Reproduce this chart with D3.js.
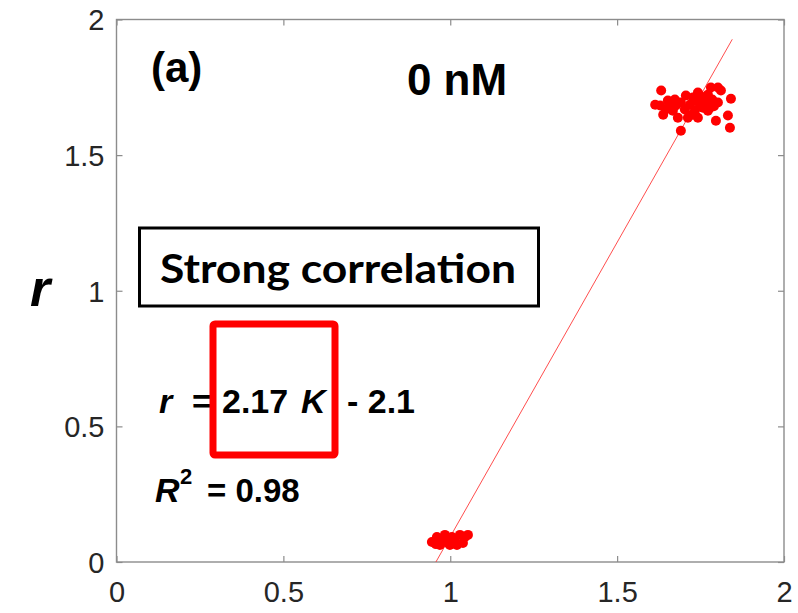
<!DOCTYPE html>
<html>
<head>
<meta charset="utf-8">
<script src="https://cdn.jsdelivr.net/npm/d3@7"></script>
<style>
  html, body { margin: 0; padding: 0; background: #fff; }
  svg { display: block; }
</style>
</head>
<body>
<svg id="chart" width="798" height="613"></svg>
<script>
// ---- data ----
const xTicks = [0, 0.5, 1, 1.5, 2];
const yTicks = [0, 0.5, 1, 1.5, 2];
const xTickLabels = ["0", "0.5", "1", "1.5", "2"];
const yTickLabels = ["0", "0.5", "1", "1.5", "2"];

// cluster near K ~ 1
const kLow = [0.945, 0.960, 0.975, 0.990, 1.005, 1.014, 1.029, 1.044, 1.053, 1.020, 0.999, 0.969, 1.038, 0.984, 0.957, 1.010, 0.993];
const rLow = [0.074, 0.092, 0.081, 0.085, 0.092, 0.074, 0.100, 0.092, 0.100, 0.063, 0.063, 0.063, 0.070, 0.100, 0.066, 0.083, 0.070];

// cluster near K ~ 1.7
const kHigh = [1.632, 1.629, 1.652, 1.667, 1.682, 1.691, 1.706, 1.718, 1.733, 1.742, 1.742, 1.763, 1.772, 1.781, 1.802, 1.811, 1.802, 1.796, 1.832, 1.841, 1.838, 1.772, 1.691, 1.646, 1.727, 1.757, 1.673, 1.703, 1.748, 1.785, 1.614, 1.638, 1.712, 1.676, 1.724, 1.778, 1.748, 1.790, 1.660, 1.735];
const rHigh = [1.738, 1.683, 1.701, 1.664, 1.638, 1.590, 1.720, 1.686, 1.664, 1.731, 1.638, 1.701, 1.664, 1.749, 1.749, 1.738, 1.694, 1.627, 1.646, 1.708, 1.601, 1.723, 1.694, 1.668, 1.712, 1.675, 1.705, 1.668, 1.690, 1.705, 1.686, 1.649, 1.638, 1.683, 1.649, 1.675, 1.720, 1.680, 1.690, 1.700];

// fitted line r = 2.17 K - 2.1 (end points)
const fitK = [0.957, 1.845];
const fitR = [0.0, 1.927];

// ---- layout ----
const svg = d3.select("#chart");
const xScale = d3.scaleLinear().domain([0, 2]).range([116.5, 784]);
const yScale = d3.scaleLinear().domain([0, 2]).range([562, 19.5]);
const axisColor = "#8c8c8c";
const tickFont = "'Liberation Sans', Arial, Helvetica, sans-serif";

// frame
svg.append("rect")
  .attr("x", xScale(0)).attr("y", yScale(2))
  .attr("width", xScale(2) - xScale(0)).attr("height", yScale(0) - yScale(2))
  .attr("fill", "none").attr("stroke", axisColor).attr("stroke-width", 1.4);

// axes (ticks inward on all sides)
const tl = 6;
const axB = d3.axisBottom(xScale).tickValues(xTicks).tickSize(-tl).tickFormat((d, i) => xTickLabels[i]).tickPadding(12);
const axL = d3.axisLeft(yScale).tickValues(yTicks).tickSize(-tl).tickFormat((d, i) => yTickLabels[i]).tickPadding(12);
const axT = d3.axisTop(xScale).tickValues(xTicks).tickSize(-tl).tickFormat("");
const axR = d3.axisRight(yScale).tickValues(yTicks).tickSize(-tl).tickFormat("");

function styleAxis(g) {
  g.select(".domain").remove();
  g.selectAll(".tick line").attr("stroke", axisColor).attr("stroke-width", 1.2);
  g.selectAll(".tick text").attr("fill", "#262626")
    .style("font-family", tickFont).style("font-size", "29px");
}
svg.append("g").attr("transform", `translate(0,${yScale(0)})`).call(axB).call(styleAxis)
  .selectAll(".tick text").attr("dy", "0.95em");
svg.append("g").attr("transform", `translate(${xScale(0)},0)`).call(axL).call(styleAxis)
  .selectAll(".tick text").attr("dy", "0.36em");
svg.append("g").attr("transform", `translate(0,${yScale(2)})`).call(axT).call(styleAxis);
svg.append("g").attr("transform", `translate(${xScale(2)},0)`).call(axR).call(styleAxis);

// fit line
svg.append("line")
  .attr("x1", xScale(fitK[0])).attr("y1", yScale(fitR[0]))
  .attr("x2", xScale(fitK[1])).attr("y2", yScale(fitR[1]))
  .attr("stroke", "#ff3030").attr("stroke-width", 1).attr("opacity", 0.85);

// points
const pts = kLow.map((k, i) => ({k, r: rLow[i]}))
  .concat(kHigh.map((k, i) => ({k, r: rHigh[i]})));
svg.append("g").selectAll("circle").data(pts).join("circle")
  .attr("cx", d => xScale(d.k)).attr("cy", d => yScale(d.r)).attr("r", 5)
  .attr("fill", "#ff0000");

// y label
svg.append("text").attr("x", 40).attr("y", 306).attr("text-anchor", "middle")
  .style("font-family", tickFont).style("font-size", "52px")
  .style("font-weight", "bold").style("font-style", "italic")
  .attr("fill", "#000").text("r");

// panel label and title
svg.append("text").attr("x", 151).attr("y", 82)
  .style("font-family", tickFont).style("font-size", "42px").style("font-weight", "bold")
  .attr("fill", "#000").text("(a)");
svg.append("text").attr("x", 457).attr("y", 95).attr("text-anchor", "middle")
  .style("font-family", tickFont).style("font-size", "44px").style("font-weight", "bold")
  .attr("fill", "#000").text("0 nM");

// Strong correlation box
svg.append("rect").attr("x", 139.5).attr("y", 228).attr("width", 399).attr("height", 78)
  .attr("fill", "#fff").attr("stroke", "#000").attr("stroke-width", 3);
svg.append("text").attr("x", 160).attr("y", 283)
  .attr("textLength", 356).attr("lengthAdjust", "spacingAndGlyphs")
  .style("font-family", "Lato, 'Open Sans', sans-serif").style("font-size", "41px").style("font-weight", "bold")
  .attr("fill", "#000").text("Strong correlation");

// equation
const eq = svg.append("g").style("font-family", tickFont).style("font-weight", "bold").attr("fill", "#000");
eq.append("text").attr("x", 159).attr("y", 413).style("font-size", "34px").style("font-style", "italic").text("r");
eq.append("text").attr("x", 192).attr("y", 413).style("font-size", "34px").text("=");
eq.append("text").attr("x", 222).attr("y", 413).style("font-size", "34px").text("2.17");
eq.append("text").attr("x", 301).attr("y", 413).style("font-size", "34px").style("font-style", "italic").text("K");
eq.append("text").attr("x", 347).attr("y", 413).style("font-size", "34px").text("- 2.1");

eq.append("text").attr("x", 155).attr("y", 502).style("font-size", "34px").style("font-style", "italic").text("R");
eq.append("text").attr("x", 180).attr("y", 484).style("font-size", "22px").text("2");
eq.append("text").attr("x", 207).attr("y", 502).style("font-size", "33px").text("= 0.98");

// red highlight box
svg.append("rect").attr("x", 213).attr("y", 324).attr("width", 122).attr("height", 131)
  .attr("rx", 2).attr("fill", "none").attr("stroke", "#ff0000").attr("stroke-width", 7);
</script>
</body>
</html>
